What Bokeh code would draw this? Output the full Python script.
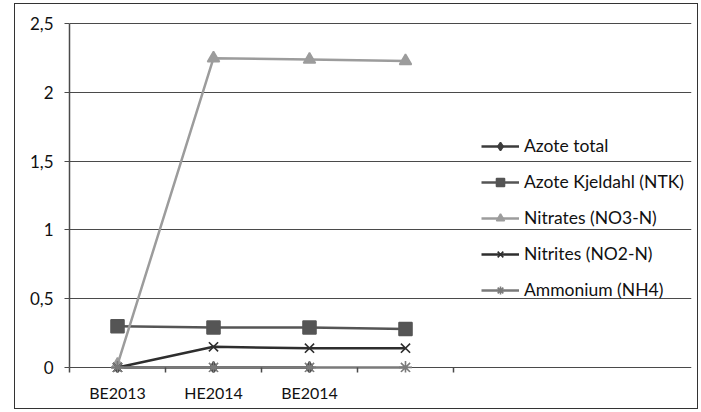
from bokeh.plotting import figure
from bokeh.models import (Range1d, FixedTicker, Legend, LegendItem)
from bokeh.embed import file_html
from bokeh.resources import INLINE

# Sampling campaigns (the fourth point has no label on the axis)
categories = ["BE2013", "HE2014", "BE2014", ""]

# Concentrations (mg/L)
azote_total = [0.0, 0.0, 0.0, float("nan")]
azote_kjeldahl = [0.30, 0.29, 0.29, 0.28]
nitrates = [0.02, 2.25, 2.24, 2.23]
nitrites = [0.0, 0.15, 0.14, 0.14]
ammonium = [0.0, 0.0, 0.0, 0.0]

y_ticks = [0, 0.5, 1, 1.5, 2, 2.5]
y_tick_labels = ["0", "0,5", "1", "1,5", "2", "2,5"]

FONT = "Lato"
AXIS_COLOR = "#4a4a4a"

n = len(categories)
xs = [i + 0.5 for i in range(n)]

# The frame also hosts the legend on its right; axis and grid are bounded to
# the category span. A little room below 0 / above 2.5 keeps the markers on
# the zero line and the top gridline unclipped; the 0 gridline is the x axis.
PLOT_W = 384          # px taken by the category span
FRAME_W = 622         # px of the whole frame
p = figure(width=684, height=406, output_backend="svg", toolbar_location=None,
           x_range=Range1d(0, n * FRAME_W / PLOT_W), y_range=Range1d(-0.037, 2.51),
           min_border_left=54, min_border_right=8, min_border_top=18,
           min_border_bottom=38)
p.margin = (3, 0, 0, 14)
p.styles = {"border": "1px solid #333"}
p.outline_line_color = None
p.background_fill_color = "white"
p.border_fill_color = "white"

# labels at category centres, tick marks on category boundaries rising to y=0
p.xaxis.ticker = FixedTicker(ticks=xs, minor_ticks=list(range(n + 1)))
p.xaxis.major_label_overrides = {x: c for x, c in zip(xs, categories)}
p.xaxis.major_tick_line_color = None
p.xaxis.major_tick_out = 0
p.xaxis.major_tick_in = 0
p.xaxis.minor_tick_out = 0
p.xaxis.minor_tick_in = 5
p.xaxis.minor_tick_line_color = AXIS_COLOR
p.xaxis.minor_tick_line_width = 1.5
p.xaxis.axis_line_color = None
p.xaxis.major_label_standoff = 10
p.xgrid.grid_line_color = None

p.yaxis.bounds = (0, 2.5)
p.yaxis.ticker = FixedTicker(ticks=y_ticks)
p.yaxis.major_label_overrides = {t: l for t, l in zip(y_ticks, y_tick_labels)}
p.yaxis.major_tick_out = 5
p.yaxis.major_tick_in = 0
p.yaxis.minor_tick_line_color = None
p.yaxis.major_tick_line_color = AXIS_COLOR
p.yaxis.axis_line_color = AXIS_COLOR
p.yaxis.axis_line_width = 1.5
p.yaxis.major_label_standoff = 11
p.ygrid.grid_line_color = AXIS_COLOR
p.ygrid.grid_line_width = 1
p.ygrid.bounds = (0, n)

for ax in (p.xaxis, p.yaxis):
    ax.major_label_text_font = FONT
    ax.major_label_text_font_size = "16px"
    ax.major_label_text_color = "#111111"
p.yaxis.major_label_text_font_size = "17px"

series = [
    ("Azote total", azote_total, "#3c3c3c", "diamond", 11),
    ("Azote Kjeldahl (NTK)", azote_kjeldahl, "#555555", "square", 13),
    ("Nitrates (NO3-N)", nitrates, "#9c9c9c", "triangle", 12),
    ("Nitrites (NO2-N)", nitrites, "#2e2e2e", "x", 13),
    ("Ammonium (NH4)", ammonium, "#7a7a7a", "asterisk", 13),
]

items = []
for label, ys, color, marker, size in series:
    ln = p.line(xs, ys, line_color=color, line_width=2.5)
    mk = p.scatter(xs, ys, marker=marker, size=size, fill_color=color,
                   line_color=color, line_width=1.6)
    items.append(LegendItem(label=label, renderers=[ln, mk]))

legend = Legend(items=items, location=(412, 72), orientation="vertical",
                glyph_width=38, glyph_height=20, label_height=20, spacing=15,
                label_standoff=5, padding=0, margin=0,
                border_line_color=None, background_fill_alpha=0,
                label_text_font=FONT, label_text_font_size="17.5px",
                label_text_color="#111111")
p.add_layout(legend)

open("out.html", "w").write(file_html(p, INLINE))
